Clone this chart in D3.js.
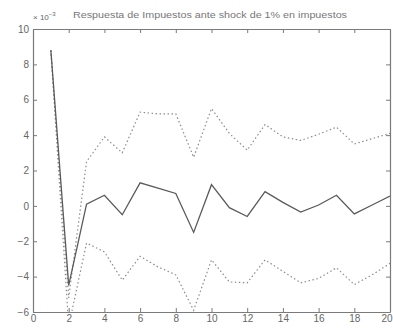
<!DOCTYPE html>
<html><head><meta charset="utf-8">
<script src="https://cdn.jsdelivr.net/npm/d3@7"></script>
<style>body{margin:0;background:#fff}svg{display:block}</style>
</head><body><div id="c"></div>
<script>
const periods = d3.range(1, 21);
const response = [8.8,-4.5,0.1,0.6,-0.5,1.3,1.0,0.7,-1.5,1.2,-0.1,-0.6,0.8,0.2,-0.35,0.05,0.6,-0.45,0.05,0.55];
const upperBand = [8.8,-5.2,2.5,3.9,3.0,5.3,5.2,5.2,2.75,5.5,4.1,3.15,4.6,3.9,3.7,4.05,4.45,3.5,3.8,4.1];
const lowerBand = [8.8,-6.8,-2.1,-2.6,-4.2,-2.85,-3.45,-3.9,-5.9,-3.05,-4.3,-4.35,-3.05,-3.7,-4.35,-4.1,-3.5,-4.45,-3.9,-3.25];
const xTicks = d3.range(0, 21, 2);
const yTicks = d3.range(-6, 11, 2);
const title = "Respuesta de Impuestos ante shock de 1% en impuestos";

(function(){
const W = 393, H = 328;
const m = {l:33, r:3, t:29, b:16};
const svg = d3.select("#c").append("svg").attr("width", W).attr("height", H);
const x = d3.scaleLinear().domain([0,20]).range([m.l, W - m.r]);
const y = d3.scaleLinear().domain([-6,10]).range([H - m.b, m.t]);
const axisCol = "#7a7a7a", textCol = "#666";

svg.append("clipPath").attr("id","clip").append("rect")
  .attr("x", x(0)).attr("y", y(10)).attr("width", x(20)-x(0)).attr("height", y(-6)-y(10));

const g = svg.append("g").attr("clip-path","url(#clip)");
const line = d3.line().x((d,i)=>x(periods[i])).y(d=>y(d));
g.append("path").datum(upperBand).attr("d", line).attr("fill","none")
  .attr("stroke","#8c8c8c").attr("stroke-width",1.2).attr("stroke-dasharray","1.5,2.5");
g.append("path").datum(lowerBand).attr("d", line).attr("fill","none")
  .attr("stroke","#8c8c8c").attr("stroke-width",1.2).attr("stroke-dasharray","1.5,2.5");
g.append("path").datum(response).attr("d", line).attr("fill","none")
  .attr("stroke","#5a5a5a").attr("stroke-width",1.3);

function styleAxis(sel){
  sel.selectAll("path.domain").attr("stroke", axisCol).attr("stroke-width",1.2);
  sel.selectAll(".tick line").attr("stroke", axisCol);
  sel.selectAll("text").attr("fill", textCol).attr("font-family","Liberation Sans, Arial, sans-serif").attr("font-size", 10);
}
const axB = svg.append("g").attr("transform",`translate(0,${y(-6)})`)
  .call(d3.axisBottom(x).tickValues(xTicks).tickSizeInner(-4).tickSizeOuter(0).tickPadding(3).tickFormat(d3.format("d")));
styleAxis(axB);
axB.selectAll(".tick text").filter(d => d === 20).attr("text-anchor","end").attr("dx", 2);
const axT = svg.append("g").attr("transform",`translate(0,${y(10)})`)
  .call(d3.axisTop(x).tickValues(xTicks).tickSizeInner(-4).tickSizeOuter(0).tickFormat(""));
styleAxis(axT);
const axL = svg.append("g").attr("transform",`translate(${x(0)},0)`)
  .call(d3.axisLeft(y).tickValues(yTicks).tickSizeInner(-4).tickSizeOuter(0).tickPadding(4).tickFormat(d3.format("d")));
styleAxis(axL);
const axR = svg.append("g").attr("transform",`translate(${x(20)},0)`)
  .call(d3.axisRight(y).tickValues(yTicks).tickSizeInner(-4).tickSizeOuter(0).tickFormat(""));
styleAxis(axR);

svg.append("text").attr("x", 33).attr("y", 20).attr("fill", textCol)
  .attr("font-family","Liberation Sans, Arial, sans-serif").attr("font-size", 8)
  .text("× 10").append("tspan").attr("dy",-4).attr("font-size",6).text("−3");
svg.append("text").attr("x", 210).attr("y", 18).attr("text-anchor","middle").attr("fill", "#777")
  .attr("font-family","Liberation Sans, Arial, sans-serif").attr("font-size", 9.5)
  .attr("textLength", 274).attr("lengthAdjust","spacingAndGlyphs").text(title);
})();
</script></body></html>
